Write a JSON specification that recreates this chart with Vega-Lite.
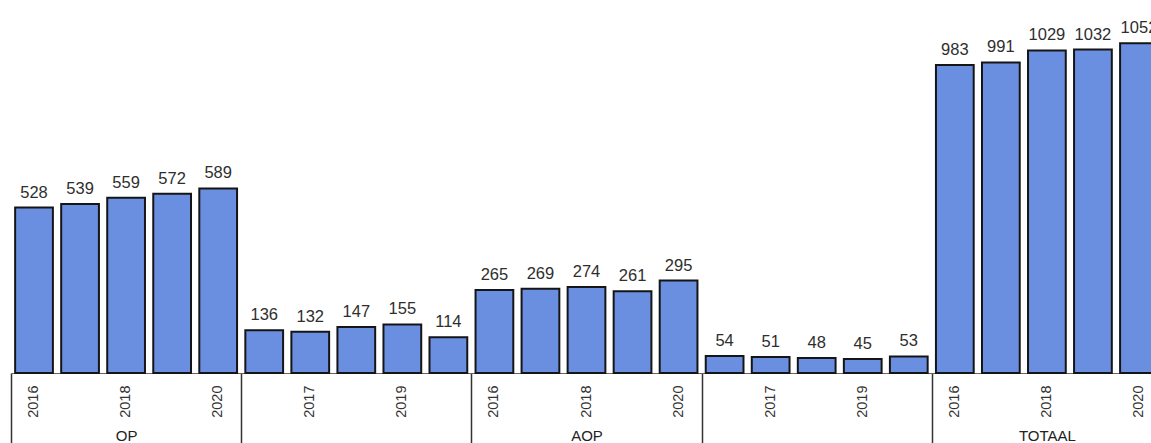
{
  "$schema": "https://vega.github.io/schema/vega-lite/v6.json",
  "width": 1151,
  "height": 373,
  "padding": {"left": 10, "top": 0, "right": 0, "bottom": 0},
  "background": "white",
  "config": {"view": {"stroke": null}, "font": "Liberation Sans, Arial"},
  "data": {
    "values": [
      {"group": "OP", "year": "2016", "key": "OP|2016", "value": 528},
      {"group": "OP", "year": "2017", "key": "OP|2017", "value": 539},
      {"group": "OP", "year": "2018", "key": "OP|2018", "value": 559},
      {"group": "OP", "year": "2019", "key": "OP|2019", "value": 572},
      {"group": "OP", "year": "2020", "key": "OP|2020", "value": 589},
      {"group": "Groep B", "year": "2016", "key": "Groep B|2016", "value": 136},
      {"group": "Groep B", "year": "2017", "key": "Groep B|2017", "value": 132},
      {"group": "Groep B", "year": "2018", "key": "Groep B|2018", "value": 147},
      {"group": "Groep B", "year": "2019", "key": "Groep B|2019", "value": 155},
      {"group": "Groep B", "year": "2020", "key": "Groep B|2020", "value": 114},
      {"group": "AOP", "year": "2016", "key": "AOP|2016", "value": 265},
      {"group": "AOP", "year": "2017", "key": "AOP|2017", "value": 269},
      {"group": "AOP", "year": "2018", "key": "AOP|2018", "value": 274},
      {"group": "AOP", "year": "2019", "key": "AOP|2019", "value": 261},
      {"group": "AOP", "year": "2020", "key": "AOP|2020", "value": 295},
      {"group": "Groep D", "year": "2016", "key": "Groep D|2016", "value": 54},
      {"group": "Groep D", "year": "2017", "key": "Groep D|2017", "value": 51},
      {"group": "Groep D", "year": "2018", "key": "Groep D|2018", "value": 48},
      {"group": "Groep D", "year": "2019", "key": "Groep D|2019", "value": 45},
      {"group": "Groep D", "year": "2020", "key": "Groep D|2020", "value": 53},
      {"group": "TOTAAL", "year": "2016", "key": "TOTAAL|2016", "value": 983},
      {"group": "TOTAAL", "year": "2017", "key": "TOTAAL|2017", "value": 991},
      {"group": "TOTAAL", "year": "2018", "key": "TOTAAL|2018", "value": 1029},
      {"group": "TOTAAL", "year": "2019", "key": "TOTAAL|2019", "value": 1032},
      {"group": "TOTAAL", "year": "2020", "key": "TOTAAL|2020", "value": 1052}
    ]
  },
  "layer": [
    {
      "encoding": {
        "x": {
          "field": "key",
          "type": "ordinal",
          "sort": null,
          "scale": {"paddingInner": 0, "paddingOuter": 0},
          "axis": {
            "orient": "bottom",
            "title": null,
            "domain": false,
            "ticks": false,
            "labelAngle": -90,
            "labelPadding": 12,
            "labelFontSize": 14.5,
            "labelColor": "#333333",
            "labelExpr": "(indexof(['OP','AOP','TOTAAL'], split(datum.value,'|')[0]) >= 0) == (parseInt(split(datum.value,'|')[1]) % 2 == 0) ? split(datum.value,'|')[1] : ''"
          }
        },
        "y": {
          "field": "value",
          "type": "quantitative",
          "scale": {"domain": [0, 1190], "nice": false},
          "axis": null
        }
      },
      "layer": [
        {
          "mark": {"type": "bar", "width": {"band": 0.82}, "fill": "#6b8fe0", "stroke": "#151515", "strokeWidth": 2}
        },
        {
          "mark": {"type": "text", "baseline": "alphabetic", "dy": -10, "fontSize": 16.5, "color": "#2e2e2e"},
          "encoding": {"text": {"field": "value", "type": "quantitative"}}
        }
      ]
    },
    {
      "mark": {"type": "point", "opacity": 0},
      "encoding": {
        "x": {
          "field": "group",
          "type": "ordinal",
          "sort": null,
          "scale": {"paddingInner": 0, "paddingOuter": 0},
          "axis": {
            "orient": "bottom",
            "title": null,
            "domain": true,
            "domainColor": "#666666",
            "domainWidth": 1,
            "ticks": true,
            "tickBand": "extent",
            "tickSize": 72,
            "tickColor": "#333333",
            "tickWidth": 1.5,
            "labelAngle": 0,
            "labelPadding": -17,
            "labelBaseline": "top",
            "labelFontSize": 15,
            "labelColor": "#222222",
            "labelExpr": "indexof(['OP','AOP','TOTAAL'], datum.value) >= 0 ? datum.value : ''"
          }
        },
        "y": {"datum": 0, "type": "quantitative"}
      }
    }
  ],
  "resolve": {"scale": {"x": "independent"}, "axis": {"x": "independent"}}
}
